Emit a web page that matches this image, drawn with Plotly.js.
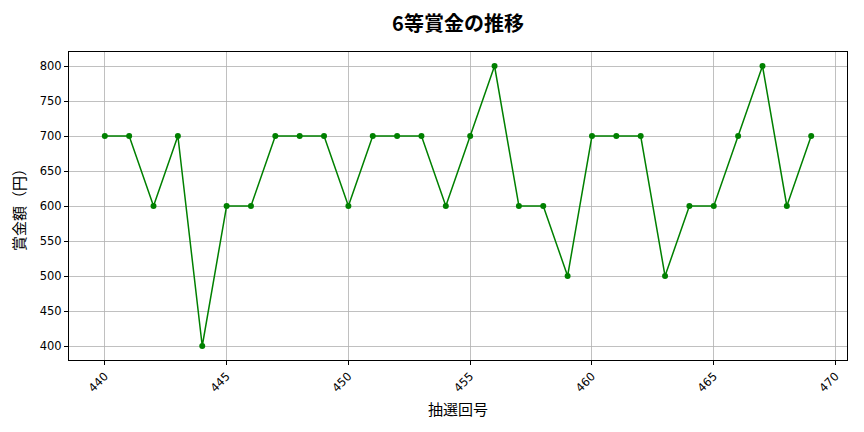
<!DOCTYPE html>
<html>
<head>
<meta charset="utf-8">
<script src="https://cdn.plot.ly/plotly-3.0.1.min.js"></script>
<style>html,body{margin:0;padding:0;background:#fff}</style>
</head>
<body>
<div id="chart" style="width:864px;height:432px"></div>
<script>
// 抽選回 and 6等賞金
const drawNumbers = [440, 441, 442, 443, 444, 445, 446, 447, 448, 449,
                     450, 451, 452, 453, 454, 455, 456, 457, 458, 459,
                     460, 461, 462, 463, 464, 465, 466, 467, 468, 469];
const prizes = [700, 700, 600, 700, 400, 600, 600, 700, 700, 700,
                600, 700, 700, 700, 600, 700, 800, 600, 600, 500,
                700, 700, 700, 500, 600, 600, 700, 800, 600, 700];
const xTicks = [440, 445, 450, 455, 460, 465, 470];
const yTicks = [400, 450, 500, 550, 600, 650, 700, 750, 800];

const font = 'Noto Sans CJK JP, Noto Sans, sans-serif';
const tickFont = 'DejaVu Sans, sans-serif';

const trace = {
  x : drawNumbers,
  y : prizes,
  mode : 'lines+markers',
  type : 'scatter',
  line : {color : 'green', width : 1.5},
  marker : {color : 'green', size : 6}
};

const axisCommon = {
  showline : true,
  linecolor : '#000',
  linewidth : 1,
  mirror : true,
  ticks : 'outside',
  ticklen : 4,
  tickcolor : '#000',
  showgrid : true,
  gridcolor : '#b0b0b0',
  gridwidth : 0.8,
  zeroline : false,
  tickfont : {family : tickFont, size : 11.5, color : '#000'}
};

const layout = {
  width : 864,
  height : 432,
  paper_bgcolor : '#fff',
  plot_bgcolor : '#fff',
  showlegend : false,
  margin : {l : 69, r : 17, t : 52, b : 72},
  title : {
    text : '<b>6等賞金の推移</b>',
    font : {family : font, size : 20, color : '#000'},
    xref : 'paper',
    x : 0.5,
    xanchor : 'center',
    y : 0.945,
    yanchor : 'middle'
  },
  xaxis : Object.assign({}, axisCommon, {
    range : [438.53, 470.47],
    tickvals : xTicks,
    tickangle : -45,
    title : {text : '抽選回号', font : {family : font, size : 15, color : '#000'}, standoff : 10}
  }),
  yaxis : Object.assign({}, axisCommon, {
    range : [380, 820],
    tickvals : yTicks,
    title : {text : '賞金額（円）', font : {family : font, size : 15, color : '#000'}, standoff : 10}
  })
};

Plotly.newPlot('chart', [trace], layout, {displayModeBar : false, staticPlot : true});
</script>
</body>
</html>
